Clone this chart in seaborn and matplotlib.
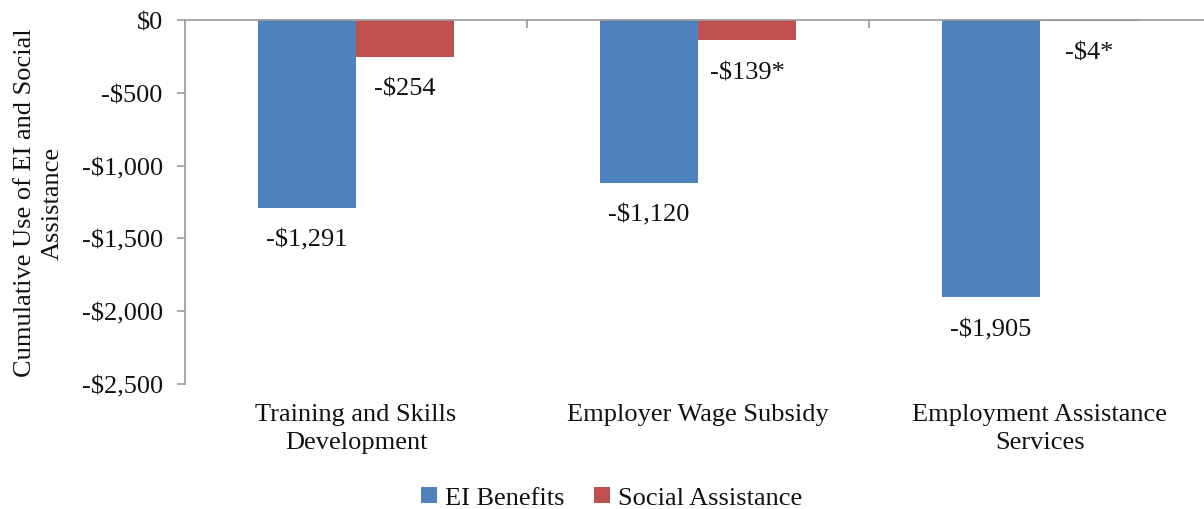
import matplotlib
matplotlib.use("Agg")
import matplotlib.pyplot as plt
import seaborn as sns
import pandas as pd
from matplotlib.ticker import FuncFormatter, FixedLocator
from matplotlib.patches import Patch

categories = ["Training and Skills\nDevelopment", "Employer Wage Subsidy", "Employment Assistance\nServices"]
series_names = ["EI Benefits", "Social Assistance"]
ei_values = [-1291, -1120, -1905]
sa_values = [-254, -139, -4]
ei_labels = ["-$1,291", "-$1,120", "-$1,905"]
sa_labels = ["-$254", "-$139*", "-$4*"]
y_ticks = [0, -500, -1000, -1500, -2000, -2500]

colors = ["#4F81BD", "#C0504D"]
FS = 19

sns.set_theme(style="white")
plt.rcParams["font.family"] = ["Liberation Serif", "DejaVu Serif"]

df = pd.DataFrame({
    "category": categories * 2,
    "series": [series_names[0]] * 3 + [series_names[1]] * 3,
    "value": ei_values + sa_values,
})

fig = plt.figure(figsize=(12.04, 5.10), dpi=100)
ax = fig.add_axes([185 / 1204, 1 - 385 / 510, 1026 / 1204, (385 - 21) / 510])

sns.barplot(data=df, x="category", y="value", hue="series", palette=colors,
            width=0.575, saturation=1, ax=ax, legend=False, errorbar=None,
            linewidth=0)

ax.set_ylim(-2500, 0)
ax.set_xlim(-0.5, 2.5)
ax.yaxis.set_major_locator(FixedLocator(y_ticks))
ax.yaxis.set_major_formatter(FuncFormatter(
    lambda v, _: "$0" if v == 0 else f"-${abs(v):,.0f}"))

grey = "#999999"
for side in ("bottom", "right"):
    ax.spines[side].set_visible(False)
for side in ("left", "top"):
    ax.spines[side].set_color(grey)
    ax.spines[side].set_linewidth(1.2)
    ax.spines[side].set_zorder(5)

ax.tick_params(axis="y", which="major", left=True, length=6, width=1.2,
               color=grey, labelsize=FS, pad=10, labelcolor="#111111")
ax.tick_params(axis="x", which="major", bottom=False, top=False,
               labelsize=FS, pad=8, labelcolor="#111111")
ax.xaxis.set_minor_locator(FixedLocator([0.5, 1.5]))
ax.tick_params(axis="x", which="minor", top=True, bottom=False,
               direction="in", length=6, width=1.2, color=grey)

ax.set_xlabel("")
ax.set_ylabel("Cumulative Use of EI and Social\nAssistance", fontsize=FS,
              labelpad=13, linespacing=1.3, color="#111111")
for lbl in ax.get_xticklabels():
    lbl.set_linespacing(1.3)

# value labels under each bar end
for container, texts in zip(ax.containers, [ei_labels, sa_labels]):
    for bar, txt in zip(container, texts):
        x = bar.get_x() + bar.get_width() / 2
        y_end = min(bar.get_y(), bar.get_y() + bar.get_height())
        ax.annotate(txt, (x, y_end), xytext=(0, -15), textcoords="offset points",
                    ha="center", va="top", fontsize=FS, color="#111111")

handles = [Patch(facecolor=c, edgecolor="none") for c in colors]
fig.legend(handles, series_names, loc="center", bbox_to_anchor=(0.508, 1 - 499 / 510),
           ncol=2, frameon=False, fontsize=FS, handlelength=0.6, handleheight=0.6,
           handletextpad=0.3, columnspacing=1.1, labelcolor="#111111")

fig.savefig("out.png", dpi=100)
